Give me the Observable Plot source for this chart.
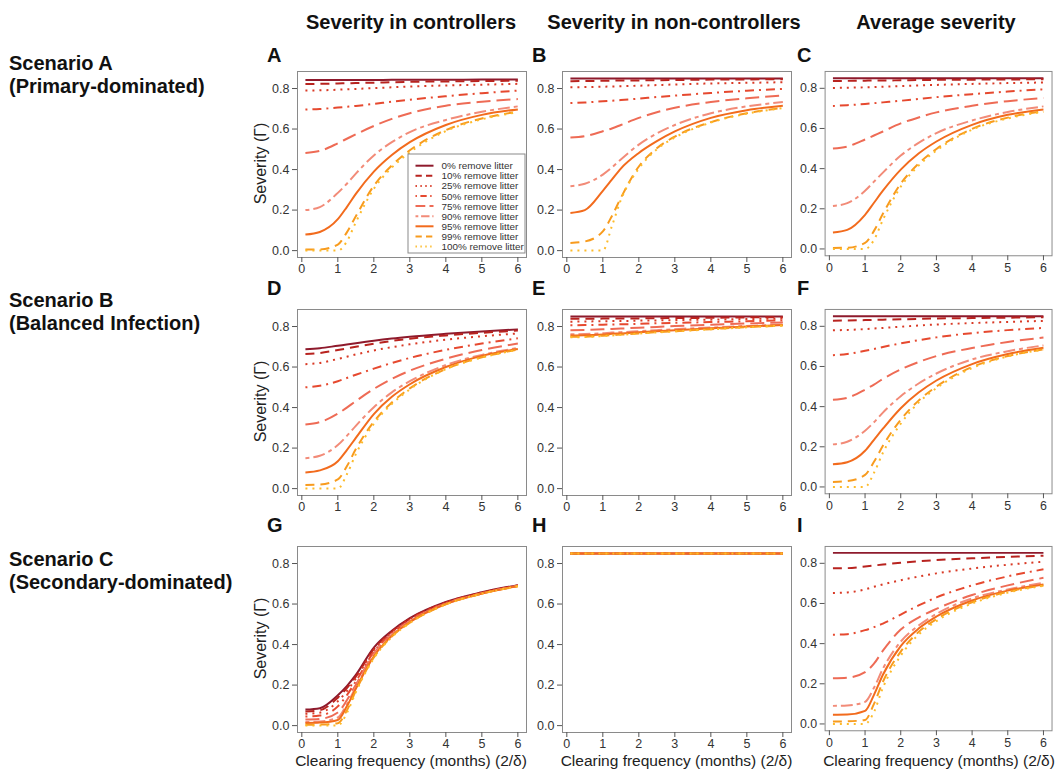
<!DOCTYPE html>
<html>
<head>
<meta charset="utf-8">
<script src="https://cdn.jsdelivr.net/npm/d3@7"></script>
<script src="https://cdn.jsdelivr.net/npm/@observablehq/plot@0.6"></script>
<style>
  html, body { margin: 0; padding: 0; background: #fff; }
  #page { position: relative; width: 1055px; height: 769px; overflow: hidden; background: #fff; font-family: "Liberation Sans", Arial, sans-serif; }
  .panel { position: absolute; }
  #overlay { position: absolute; left: 0; top: 0; pointer-events: none; }
</style>
</head>
<body>
<div id="page"></div>
<script>
// ---------- data ----------
const X = [0.1, 0.5, 1, 1.25, 1.5, 2, 2.5, 3, 4, 5, 6];
const levels = ["0%", "10%", "25%", "50%", "75%", "90%", "95%", "99%", "100%"];
const colors = ["#8E1A2C", "#B8231F", "#D93A26", "#E6492F", "#EE6B55", "#F28B78", "#F26B1D", "#F89B1E", "#FDBB2A"];
const dashes = [null, "9 6", "2 5", "2 5 9 5", "14 6", "4 4 12 4", null, "9 6", "2 5"];
const columnTitles = ["Severity in controllers", "Severity in non-controllers", "Average severity"];
const scenarioNames = ["Scenario A", "Scenario B", "Scenario C"];
const scenarioSubs = ["(Primary-dominated)", "(Balanced Infection)", "(Secondary-dominated)"];
const panelLetters = ["A", "B", "C", "D", "E", "F", "G", "H", "I"];
const xTicks = [0, 1, 2, 3, 4, 5, 6];
const yTicks = [0, 0.2, 0.4, 0.6, 0.8];

const panelA = [
  [0.842,0.842,0.842,0.842,0.842,0.842,0.843,0.843,0.843,0.844,0.844],
  [0.822,0.823,0.825,0.826,0.827,0.829,0.831,0.833,0.835,0.837,0.838],
  [0.790,0.791,0.794,0.796,0.798,0.802,0.806,0.810,0.815,0.819,0.823],
  [0.696,0.699,0.706,0.710,0.714,0.724,0.735,0.745,0.762,0.777,0.790],
  [0.482,0.492,0.530,0.552,0.574,0.615,0.650,0.678,0.715,0.735,0.748],
  [0.200,0.215,0.285,0.330,0.380,0.470,0.535,0.585,0.645,0.685,0.712],
  [0.079,0.092,0.155,0.215,0.280,0.390,0.472,0.535,0.620,0.670,0.697],
  [0.005,0.006,0.030,0.090,0.170,0.320,0.420,0.495,0.595,0.652,0.686],
  [0.000,0.000,0.000,0.045,0.140,0.305,0.410,0.485,0.590,0.648,0.683]
];
const panelB = [
  [0.849,0.849,0.849,0.849,0.849,0.849,0.849,0.849,0.849,0.849,0.849],
  [0.836,0.837,0.838,0.839,0.839,0.840,0.841,0.842,0.844,0.845,0.846],
  [0.806,0.807,0.809,0.810,0.811,0.814,0.817,0.820,0.825,0.828,0.831],
  [0.728,0.731,0.737,0.740,0.743,0.750,0.758,0.765,0.778,0.789,0.798],
  [0.558,0.565,0.589,0.603,0.620,0.655,0.683,0.705,0.733,0.752,0.765],
  [0.318,0.330,0.375,0.410,0.450,0.523,0.578,0.620,0.678,0.712,0.733],
  [0.186,0.200,0.295,0.350,0.405,0.482,0.540,0.588,0.655,0.693,0.715],
  [0.038,0.045,0.095,0.170,0.260,0.415,0.505,0.563,0.634,0.678,0.705],
  [0.000,0.000,0.000,0.120,0.250,0.405,0.500,0.558,0.632,0.676,0.703]
];
const panelC = [
  [0.850,0.850,0.850,0.850,0.850,0.850,0.850,0.850,0.850,0.850,0.850],
  [0.836,0.837,0.838,0.839,0.839,0.840,0.841,0.842,0.843,0.844,0.845],
  [0.802,0.803,0.805,0.806,0.808,0.811,0.814,0.817,0.822,0.826,0.829],
  [0.712,0.716,0.722,0.726,0.730,0.738,0.747,0.756,0.771,0.784,0.795],
  [0.500,0.510,0.545,0.565,0.585,0.625,0.655,0.680,0.713,0.736,0.752],
  [0.214,0.228,0.290,0.335,0.380,0.465,0.528,0.577,0.640,0.682,0.710],
  [0.082,0.095,0.170,0.230,0.290,0.395,0.475,0.535,0.618,0.668,0.695],
  [0.005,0.006,0.030,0.090,0.175,0.325,0.425,0.498,0.598,0.654,0.686],
  [0.000,0.000,0.000,0.045,0.145,0.310,0.415,0.490,0.594,0.650,0.683]
];
const panelD = [
  [0.688,0.693,0.705,0.711,0.717,0.730,0.741,0.750,0.764,0.776,0.786],
  [0.664,0.669,0.684,0.692,0.700,0.715,0.729,0.740,0.756,0.769,0.780],
  [0.614,0.620,0.640,0.651,0.662,0.682,0.698,0.712,0.735,0.752,0.766],
  [0.500,0.508,0.530,0.546,0.562,0.592,0.620,0.645,0.685,0.716,0.742],
  [0.316,0.328,0.370,0.400,0.432,0.492,0.542,0.582,0.641,0.684,0.716],
  [0.150,0.162,0.215,0.260,0.310,0.402,0.475,0.530,0.610,0.660,0.694],
  [0.080,0.090,0.135,0.190,0.250,0.368,0.453,0.515,0.600,0.655,0.689],
  [0.018,0.020,0.045,0.110,0.195,0.330,0.425,0.495,0.590,0.648,0.686],
  [0.000,0.000,0.000,0.070,0.170,0.320,0.418,0.490,0.590,0.647,0.685]
];
const panelE = [
  [0.849,0.849,0.849,0.849,0.849,0.849,0.849,0.849,0.849,0.849,0.849],
  [0.838,0.838,0.839,0.839,0.840,0.840,0.841,0.842,0.843,0.845,0.846],
  [0.824,0.825,0.826,0.827,0.827,0.829,0.830,0.832,0.834,0.837,0.839],
  [0.806,0.807,0.809,0.810,0.811,0.813,0.816,0.818,0.822,0.826,0.830],
  [0.782,0.783,0.786,0.788,0.790,0.794,0.798,0.802,0.809,0.815,0.820],
  [0.762,0.763,0.767,0.770,0.772,0.777,0.782,0.787,0.795,0.803,0.810],
  [0.756,0.757,0.761,0.764,0.766,0.772,0.777,0.782,0.791,0.800,0.807],
  [0.749,0.750,0.755,0.757,0.760,0.766,0.772,0.777,0.787,0.797,0.805],
  [0.747,0.748,0.753,0.756,0.759,0.765,0.771,0.776,0.786,0.796,0.804]
];
const panelF = [
  [0.850,0.850,0.850,0.850,0.850,0.850,0.850,0.850,0.850,0.850,0.850],
  [0.828,0.829,0.831,0.832,0.833,0.835,0.837,0.839,0.841,0.843,0.845],
  [0.780,0.782,0.786,0.789,0.792,0.798,0.804,0.809,0.816,0.822,0.827],
  [0.656,0.662,0.678,0.687,0.697,0.715,0.731,0.745,0.766,0.781,0.792],
  [0.434,0.444,0.485,0.510,0.538,0.585,0.622,0.652,0.692,0.722,0.744],
  [0.212,0.225,0.280,0.322,0.370,0.452,0.515,0.565,0.635,0.676,0.705],
  [0.113,0.123,0.180,0.235,0.290,0.392,0.470,0.530,0.612,0.662,0.693],
  [0.025,0.029,0.060,0.125,0.205,0.335,0.430,0.500,0.597,0.652,0.685],
  [0.000,0.000,0.000,0.070,0.170,0.315,0.420,0.492,0.592,0.650,0.684]
];
const panelG = [
  [0.079,0.086,0.150,0.195,0.250,0.385,0.468,0.530,0.610,0.658,0.693],
  [0.070,0.076,0.138,0.185,0.242,0.378,0.464,0.527,0.608,0.656,0.692],
  [0.058,0.064,0.120,0.170,0.232,0.372,0.460,0.524,0.606,0.655,0.691],
  [0.045,0.050,0.095,0.150,0.218,0.364,0.455,0.520,0.604,0.654,0.690],
  [0.030,0.033,0.065,0.125,0.202,0.355,0.450,0.516,0.602,0.653,0.690],
  [0.018,0.020,0.040,0.105,0.190,0.348,0.446,0.513,0.601,0.652,0.689],
  [0.013,0.015,0.028,0.095,0.182,0.342,0.443,0.511,0.600,0.652,0.689],
  [0.004,0.005,0.012,0.075,0.172,0.336,0.440,0.508,0.599,0.651,0.688],
  [0.000,0.000,0.000,0.062,0.165,0.332,0.437,0.506,0.598,0.651,0.688]
];
const panelH = [
  [0.850,0.850,0.850,0.850,0.850,0.850,0.850,0.850,0.850,0.850,0.850],
  [0.850,0.850,0.850,0.850,0.850,0.850,0.850,0.850,0.850,0.850,0.850],
  [0.850,0.850,0.850,0.850,0.850,0.850,0.850,0.850,0.850,0.850,0.850],
  [0.850,0.850,0.850,0.850,0.850,0.850,0.850,0.850,0.850,0.850,0.850],
  [0.850,0.850,0.850,0.850,0.850,0.850,0.850,0.850,0.850,0.850,0.850],
  [0.850,0.850,0.850,0.850,0.850,0.850,0.850,0.850,0.850,0.850,0.850],
  [0.850,0.850,0.850,0.850,0.850,0.850,0.850,0.850,0.850,0.850,0.850],
  [0.850,0.850,0.850,0.850,0.850,0.850,0.850,0.850,0.850,0.850,0.850],
  [0.850,0.850,0.850,0.850,0.850,0.850,0.850,0.850,0.850,0.850,0.850]
];
const panelI = [
  [0.852,0.852,0.852,0.852,0.852,0.852,0.852,0.852,0.852,0.852,0.852],
  [0.775,0.776,0.784,0.789,0.794,0.803,0.810,0.816,0.825,0.832,0.838],
  [0.652,0.655,0.670,0.683,0.695,0.716,0.734,0.750,0.774,0.793,0.808],
  [0.444,0.447,0.467,0.482,0.500,0.545,0.590,0.630,0.690,0.735,0.770],
  [0.227,0.230,0.258,0.300,0.365,0.470,0.530,0.573,0.642,0.690,0.728],
  [0.090,0.092,0.110,0.180,0.275,0.410,0.490,0.548,0.625,0.670,0.703],
  [0.046,0.047,0.065,0.145,0.245,0.388,0.475,0.535,0.615,0.664,0.695],
  [0.012,0.013,0.020,0.100,0.210,0.360,0.458,0.522,0.606,0.658,0.690],
  [0.000,0.000,0.000,0.060,0.180,0.340,0.445,0.512,0.600,0.654,0.688]
];
const panels = [panelA, panelB, panelC, panelD, panelE, panelF, panelG, panelH, panelI];

// ---------- layout ----------
const frameLefts = [296.5, 562, 824.5];
const frameTops = [70.5, 308.5, 545.5];
const frameW = 229, frameH = 186;
const mL = 45, mR = 4, mT = 5, mB = 30;
const FONT = "'Liberation Sans', Arial, Helvetica, sans-serif";

const page = document.getElementById("page");

panels.forEach((panel, p) => {
  const row = Math.floor(p / 3), col = p % 3;
  const rows = panel.flatMap((vals, s) => X.map((x, j) => ({x, y: vals[j], s})));
  const lineMarks = levels.map((lv, s) => Plot.line(rows.filter(d => d.s === s), {
    x: "x", y: "y", stroke: colors[s], strokeWidth: 2,
    strokeDasharray: dashes[s] || undefined, curve: "monotone-x", strokeLinecap: "butt"
  }));
  const chart = Plot.plot({
    width: mL + frameW + mR,
    height: mT + frameH + mB,
    marginLeft: mL, marginRight: mR, marginTop: mT, marginBottom: mB,
    style: {fontFamily: FONT, fontSize: "12.5px", color: "#555", background: "transparent"},
    x: {domain: [-0.12, 6.24]},
    y: {domain: [-0.034, 0.884]},
    marks: [
      ...lineMarks,
      Plot.frame({stroke: "#8a8a8a", strokeWidth: 1}),
      Plot.axisX({ticks: xTicks, tickSize: 5, tickPadding: 2, tickFormat: d => String(d), label: null, fill: "#333", fontSize: 12.5}),
      Plot.axisY({ticks: yTicks, tickSize: 5, tickPadding: 3, tickFormat: d3.format(".1f"), label: null, fill: "#333", fontSize: 12.5})
    ]
  });
  const wrap = document.createElement("div");
  wrap.className = "panel";
  wrap.style.left = (frameLefts[col] - mL) + "px";
  wrap.style.top = (frameTops[row] - mT) + "px";
  wrap.appendChild(chart);
  page.appendChild(wrap);
});

// ---------- overlay text & legend ----------
const svg = d3.select(page).append("svg")
  .attr("id", "overlay").attr("width", 1055).attr("height", 769)
  .style("font-family", FONT);

const colCenters = [411, 674, 936];
columnTitles.forEach((t, i) => {
  svg.append("text").attr("x", colCenters[i]).attr("y", 29)
    .attr("text-anchor", "middle").attr("font-size", 20).attr("font-weight", "bold")
    .attr("fill", "#111").text(t);
});

const scenBase = [[70, 93], [307, 330], [566, 589]];
scenarioNames.forEach((t, i) => {
  svg.append("text").attr("x", 9).attr("y", scenBase[i][0])
    .attr("font-size", 20).attr("font-weight", "bold").attr("fill", "#111").text(t);
  svg.append("text").attr("x", 9).attr("y", scenBase[i][1])
    .attr("font-size", 20).attr("font-weight", "bold").attr("fill", "#111").text(scenarioSubs[i]);
});

const letterX = [267, 532, 797];
const letterY = [62, 295, 532];
panelLetters.forEach((t, p) => {
  const row = Math.floor(p / 3), col = p % 3;
  svg.append("text").attr("x", letterX[col]).attr("y", letterY[row])
    .attr("font-size", 20).attr("font-weight", "bold").attr("fill", "#111").text(t);
});

// y-axis titles (first column)
frameTops.forEach(top => {
  const cy = top + frameH / 2;
  svg.append("text").attr("transform", `translate(266,${cy}) rotate(-90)`)
    .attr("text-anchor", "middle").attr("font-size", 16).attr("fill", "#222")
    .text("Severity (Γ)");
});

// x-axis titles (bottom row)
frameLefts.forEach(left => {
  svg.append("text").attr("x", left + frameW / 2).attr("y", 766)
    .attr("text-anchor", "middle").attr("font-size", 15.5).attr("fill", "#222")
    .text("Clearing frequency (months) (2/δ)");
});

// legend in panel A
const lg = svg.append("g");
lg.append("rect").attr("x", 408).attr("y", 154).attr("width", 117).attr("height", 99)
  .attr("fill", "#fff").attr("stroke", "#8a8a8a").attr("stroke-width", 1);
levels.forEach((lv, i) => {
  const cy = 165.7 + i * 10.1;
  lg.append("line").attr("x1", 415.5).attr("x2", 433.5).attr("y1", cy).attr("y2", cy)
    .attr("stroke", colors[i]).attr("stroke-width", 2)
    .attr("stroke-dasharray", dashes[i] ? dashes[i].split(" ").map(v => v * 0.7).join(" ") : null);
  lg.append("text").attr("x", 441.5).attr("y", cy + 3.5)
    .attr("font-size", 9.9).attr("fill", "#333").text(lv + " remove litter");
});
</script>
</body>
</html>
